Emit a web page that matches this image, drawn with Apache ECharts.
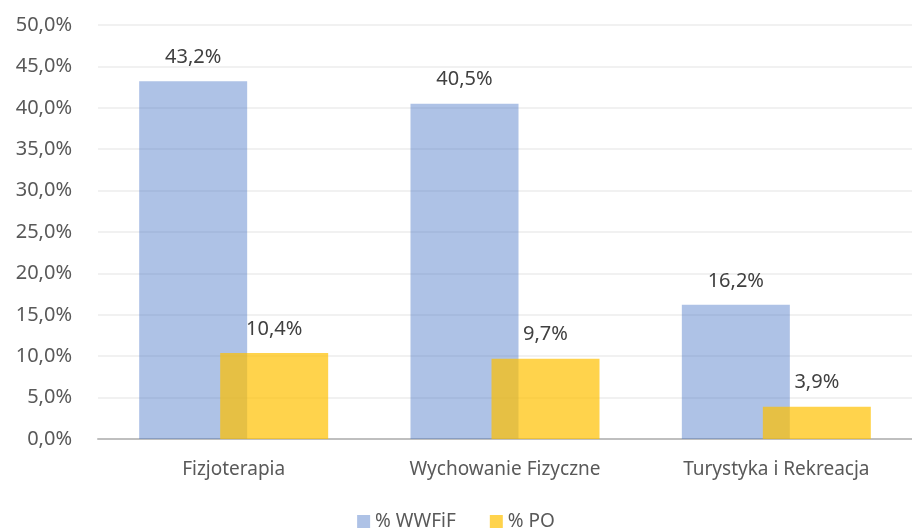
<!DOCTYPE html>
<html><head><meta charset="utf-8">
<script src="https://cdn.jsdelivr.net/npm/echarts@6/dist/echarts.min.js"></script>
<style>html,body{margin:0;padding:0;background:#fff}#c{width:912px;height:532px}</style>
</head><body><div id="c"></div>
<script>
const categories = ['Fizjoterapia', 'Wychowanie Fizyczne', 'Turystyka i Rekreacja'];
const seriesNames = ['% WWFiF', '% PO'];
const wwfif = [43.2, 40.5, 16.2];
const po = [10.4, 9.7, 3.9];
const fmt = v => v.toFixed(1).replace('.', ',') + '%';
const chart = echarts.init(document.getElementById('c'));
const lbl = {show: true, position: 'top', distance: 14, color: '#404040', fontSize: 20, fontFamily: 'Noto Sans', formatter: p => fmt(p.value)};
chart.setOption({
  animation: false,
  grid: {left: 98, right: 0, top: 25, bottom: 93, containLabel: false},
  legend: {bottom: -4, left: 'center', itemWidth: 13, itemHeight: 13, itemGap: 34,
    textStyle: {color: '#595959', fontSize: 19, fontFamily: 'Noto Sans'}, icon: 'rect', data: seriesNames},
  xAxis: {type: 'category', data: categories,
    axisLine: {lineStyle: {color: '#BFBFBF', width: 2}}, axisTick: {show: false},
    axisLabel: {color: '#595959', fontSize: 19, fontFamily: 'Noto Sans', margin: 21}},
  yAxis: {type: 'value', min: 0, max: 50, interval: 5,
    axisLabel: {color: '#595959', fontSize: 20, fontFamily: 'Noto Sans', margin: 26, formatter: v => fmt(v)},
    splitLine: {lineStyle: {color: '#EDEDED', width: 1.5}}, axisLine: {show: false}},
  series: [
    {name: seriesNames[0], type: 'bar', data: wwfif, barWidth: 108, barGap: '-25%',
      itemStyle: {color: 'rgba(68,114,196,0.43)'}, label: lbl},
    {name: seriesNames[1], type: 'bar', data: po, barWidth: 108,
      itemStyle: {color: 'rgba(255,192,0,0.7)'}, label: lbl}
  ]
});
</script></body></html>
